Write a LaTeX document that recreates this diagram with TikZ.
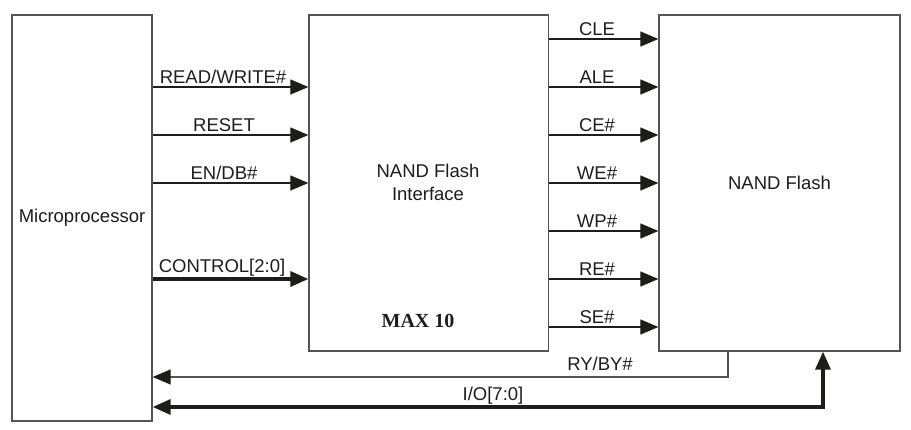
\documentclass[tikz,border=0pt]{standalone}
\usepackage{fontspec}
\setmainfont{Liberation Sans}
\newfontfamily\serifbold{Liberation Serif}
\usetikzlibrary{arrows.meta}
\definecolor{boxline}{rgb}{0.33,0.33,0.33}
\definecolor{ink}{rgb}{0.12,0.11,0.11}
\tikzset{
  blk/.style={draw=boxline, line width=1.3pt, fill=white, inner sep=0pt, font=\fontsize{18.5}{23}\selectfont, text=ink},
  sig/.style={draw=ink, line width=1.2pt, -{Triangle[length=18pt,width=15pt]}},
  bus/.style={draw=ink, line width=3.4pt, line join=miter, -{Triangle[length=18pt,width=15pt]}},
  lbl/.style={font=\fontsize{18.5}{23}\selectfont, text=ink, inner sep=0pt, anchor=base},
}
\begin{document}
\begin{tikzpicture}[x=1pt,y=-1pt]
\useasboundingbox (0,0) rectangle (911,429);
\node[blk, minimum width=140pt, minimum height=406pt] (micro) at (82,218) {Microprocessor};
\node[blk, minimum width=239.5pt, minimum height=336pt] (iface) at (428.75,183) {};
\node[blk, minimum width=241pt, minimum height=336pt] (flash) at (779.5,183) {NAND Flash};
\node[lbl, align=center, anchor=center] (ifacetxt) at (428,182) {NAND Flash\\Interface};
\node[font=\serifbold\bfseries\fontsize{20}{24}\selectfont, text=ink, inner sep=0pt] (max) at (418,321) {MAX 10};

% microprocessor -> interface
\draw[sig] (micro.east |- 0,87) -- (iface.west |- 0,87);
\node[lbl] (l1) at (223,83) {READ/WRITE\#};
\draw[sig] (micro.east |- 0,135) -- (iface.west |- 0,135);
\node[lbl] (l2) at (224,131) {RESET};
\draw[sig] (micro.east |- 0,183) -- (iface.west |- 0,183);
\node[lbl] (l3) at (224,179) {EN/DB\#};
\draw[bus] (micro.east |- 0,279) -- (iface.west |- 0,279);
\node[lbl] (l4) at (222,272.5) {CONTROL[2:0]};

% interface -> flash
\draw[sig] (iface.east |- 0,39) -- (flash.west |- 0,39);
\node[lbl] (r1) at (597,35) {CLE};
\draw[sig] (iface.east |- 0,87) -- (flash.west |- 0,87);
\node[lbl] (r2) at (597,83) {ALE};
\draw[sig] (iface.east |- 0,135) -- (flash.west |- 0,135);
\node[lbl] (r3) at (597,131) {CE\#};
\draw[sig] (iface.east |- 0,183) -- (flash.west |- 0,183);
\node[lbl] (r4) at (597,179) {WE\#};
\draw[sig] (iface.east |- 0,231) -- (flash.west |- 0,231);
\node[lbl] (r5) at (597,227) {WP\#};
\draw[sig] (iface.east |- 0,279) -- (flash.west |- 0,279);
\node[lbl] (r6) at (597,275) {RE\#};
\draw[sig] (iface.east |- 0,327) -- (flash.west |- 0,327);
\node[lbl] (r7) at (597,323) {SE\#};

% flash -> microprocessor
\draw[draw=boxline, line width=1.2pt, -{Triangle[length=18pt,width=15pt,color=ink]}] (flash.south -| 728,0) |- (micro.east |- 0,377);
\node[lbl] (ry) at (600,370) {RY/BY\#};
\draw[bus, {Triangle[length=18pt,width=15pt]}-{Triangle[length=18pt,width=15pt]}] (micro.east |- 0,407) -| (flash.south -| 823,0);
\node[lbl] (io) at (493,400) {I/O[7:0]};
\end{tikzpicture}
\end{document}
